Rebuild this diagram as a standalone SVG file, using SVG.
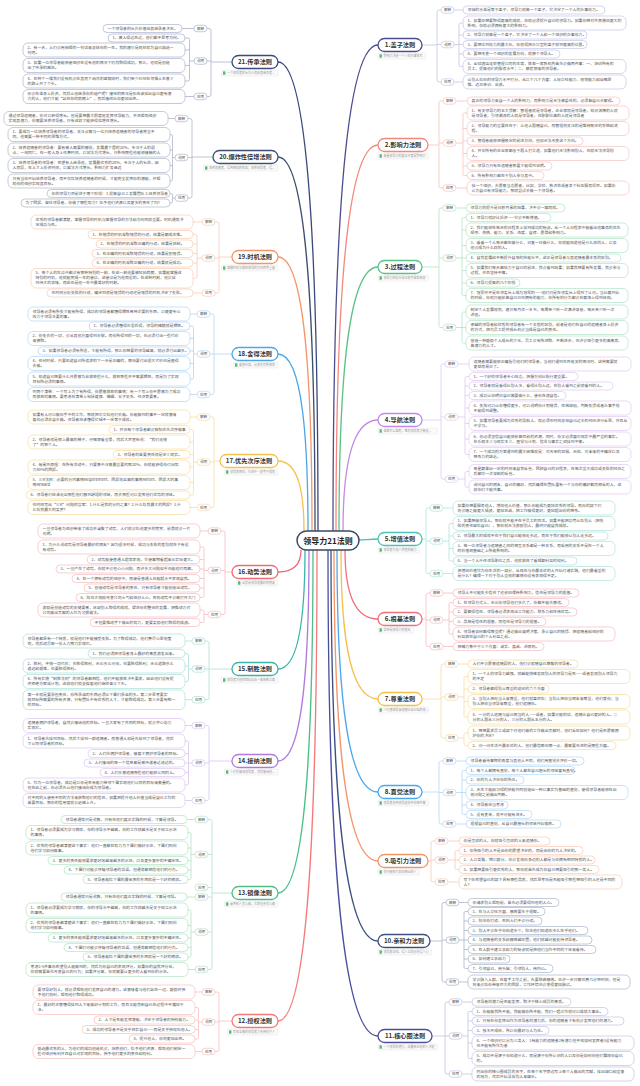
<svg xmlns="http://www.w3.org/2000/svg" width="640" height="1086" viewBox="0 0 640 1086">
<style>
text{font-family:"Noto Sans CJK SC","Noto Sans",sans-serif}
.t{font-size:3.9px;fill:#555}
.i{fill:#fff;stroke:var(--l);stroke-width:.7}
.lr{fill:#fff;stroke:var(--l);stroke-width:.7}
.lt{font-size:3.6px;fill:#555;text-anchor:middle}
.nr{fill:#fff;stroke:var(--c);stroke-width:1.3}
.nt{font-size:6.2px;font-weight:700;fill:#333;text-anchor:middle}
.sr{fill:#fafafa;stroke:#dedede;stroke-width:.4}
.st{font-size:3px;fill:#999}
.ic{fill:#5cb87a}
.m{fill:none;stroke:var(--c);stroke-width:1.3}
.br{fill:none;stroke:var(--l);stroke-width:.8}
.c1{--c:#4b4e8e;--l:#c3c5e6}.c2{--c:#f4877d;--l:#f6c3be}.c3{--c:#58c287;--l:#b3e3c6}.c4{--c:#c38ae6;--l:#e0c8f3}
.c5{--c:#4cc2b6;--l:#b0e2dd}.c6{--c:#f0707e;--l:#f5bcc2}.c7{--c:#f4c04a;--l:#f7dd9e}.c8{--c:#4ba8ef;--l:#b2d8f6}
.c9{--c:#f5956a;--l:#f8cbb5}.c10{--c:#3c5180;--l:#aab4cb}.c11{--c:#4a4f9c;--l:#c1c3e5}.c12{--c:#f47a7a;--l:#f6bfbf}
.c13{--c:#4cc087;--l:#b2e2c6}.c14{--c:#b07ae0;--l:#dbc5f0}.c15{--c:#3bb5a8;--l:#aedfd9}.c16{--c:#ef6b76;--l:#f5bcc1}
.c17{--c:#f5c24c;--l:#f8dda0}.c18{--c:#4aa8e8;--l:#b2d6f3}.c19{--c:#f5956a;--l:#f8cbb5}.c20{--c:#3d4f72;--l:#aeb6c7}
.c21{--c:#3a4a7c;--l:#aab2cd}
</style>
<rect width="640" height="1086" fill="#fff"/>
<g id="connectors">
<g class="c1"><path class="m" d="M333,531C333,302.6 339.8,45 378,45"/><path class="br" d="M422,45H437M441,10H439Q437,10 437,12V80Q437,82 439,82H441M437,44.5H441M454,10H463M454,44.5H463M463,23H460.5Q459,23 459,24.5V65Q459,66.5 460.5,66.5H463M459,35H463M459,54H463M454,82H463"/></g>
<g class="c2"><path class="m" d="M336,531C336,349.6 342.3,145 378,145"/><path class="br" d="M428,145H439M443,101H441Q439,101 439,103V186Q439,188 441,188H443M439,143H443M456,101H467M456,143H463M467,113H464.5Q463,113 463,114.5V174Q463,175.5 464.5,175.5H467M463,128.5H467M463,141H467M463,153.5H467M463,166H467M456,188H467"/></g>
<g class="c3"><path class="m" d="M339,531C339,406.9 344.9,267 378,267"/><path class="br" d="M420,267H439M443,208H441Q439,208 439,210V325.5Q439,327.5 441,327.5H443M439,258H443M456,208H466M456,258H466M466,217.5H463.5Q462,217.5 462,219V294Q462,295.5 463.5,295.5H466M462,230H466M462,245.5H466M462,270.5H466M462,283H466M456,327.5H466M466,312H463.5Q462,312 462,313.5V341.5Q462,343 463.5,343H466"/></g>
<g class="c4"><path class="m" d="M343,531C343,478.8 348.3,420 378,420"/><path class="br" d="M422,420H441M445,364H443Q441,364 441,366V477Q441,479 443,479H445M441,417H445M458,364H469M458,417H465M469,376.5H466.5Q465,376.5 465,378V453Q465,454.5 466.5,454.5H469M465,386H469M465,395.5H469M465,408H469M465,423.5H469M465,439H469M458,479H465M469,471.5H466.5Q465,471.5 465,473V485.5Q465,487 466.5,487H469"/></g>
<g class="c5"><path class="m" d="M359,540C365,540 370,539 378,539"/><path class="br" d="M422,539H426M430,508H428Q426,508 426,510V571.5Q426,573.5 428,573.5H430M426,541H430M443,508H453M443,541H449M453,523.5H450.5Q449,523.5 449,525V559.5Q449,561 450.5,561H453M449,536H453M449,548.5H453M443,573.5H453"/></g>
<g class="c6"><path class="m" d="M345,550C345,582.4 350,619 378,619"/><path class="br" d="M422,619H426M430,593H428Q426,593 426,595V644.5Q426,646.5 428,646.5H430M426,620H430M443,593H453M443,620H449M453,602.5H450.5Q449,602.5 449,604V632.5Q449,634 450.5,634H453M449,612H453M449,621.5H453M443,646.5H453"/></g>
<g class="c7"><path class="m" d="M341,550C341,620 346.5,699 378,699"/><path class="br" d="M422,699H441M445,664H443Q441,664 441,666V736Q441,738 443,738H445M441,697H445M458,664H468M458,697H464M468,676.5H465.5Q464,676.5 464,678V715.5Q464,717 465.5,717H468M464,689H468M464,701.5H468M458,738H464M468,733H465.5Q464,733 464,734.5V744Q464,745.5 465.5,745.5H468"/></g>
<g class="c8"><path class="m" d="M337,550C337,663.7 343.2,792 378,792"/><path class="br" d="M422,792H439M443,761H441Q439,761 439,763V822Q439,824 441,824H443M439,792.5H443M456,761H466M456,792.5H466M466,770.5H463.5Q462,770.5 462,772V813Q462,814.5 463.5,814.5H466M462,780H466M462,805H466M456,824H466"/></g>
<g class="c9"><path class="m" d="M334,550C334,696.2 340.6,861 378,861"/><path class="br" d="M428,861H431M435,841H433Q431,841 431,843V880Q431,882 433,882H435M431,860H435M448,841H459M448,860H459M459,850.5H456.5Q455,850.5 455,852V868Q455,869.5 456.5,869.5H459M448,882H459"/></g>
<g class="c10"><path class="m" d="M331,550C331,733.8 338,941 378,941"/><path class="br" d="M430,941H442M446,902.5H444Q442,902.5 442,904.5V980Q442,982 444,982H446M442,940H446M459,902.5H468M459,940H468M468,911.5H465.5Q464,911.5 464,913V967Q464,968.5 465.5,968.5H468M464,921H468M464,930.5H468M464,949.5H468M464,959H468M459,982H468"/></g>
<g class="c11"><path class="m" d="M328,550C328,778.4 335.5,1036 378,1036"/><path class="br" d="M432,1036H449M449,1002H447Q445,1002 445,1004V1072Q445,1074 447,1074H449M462,1002H472M462,1036H468M472,1011.5H469.5Q468,1011.5 468,1013V1057Q468,1058.5 469.5,1058.5H472M468,1021H472M468,1030.5H472M468,1043H472M462,1074H472"/></g>
<g class="c21"><path class="m" d="M318,531C318,310.6 312,62 278,62"/><path class="br" d="M232,62H211M207,28.5H209Q211,28.5 211,30.5V94.5Q211,96.5 209,96.5H207M211,61H207M194,28.5H182M194,61H189.5M185,38H188Q189.5,38 189.5,39.5V79.5Q189.5,81 188,81H185M189.5,50H185M189.5,65.5H185M194,96.5H185"/></g>
<g class="c20"><path class="m" d="M315,531C315,355.2 309.5,157 278,157"/><path class="br" d="M213,157H192M188,118.5H190Q192,118.5 192,120.5V196Q192,198 190,198H188M192,157.5H188M175,118.5H168M175,157.5H172.5M170,134.5H171Q172.5,134.5 172.5,136V179.5Q172.5,181 171,181H170M172.5,150H170M172.5,165.5H170M175,198H172.5M170,193.5H171Q172.5,193.5 172.5,195V201.5Q172.5,203 171,203H170"/></g>
<g class="c19"><path class="m" d="M312,531C312,402.2 306.9,257 278,257"/><path class="br" d="M232,257H219M215,222H217Q219,222 219,224V291Q219,293 217,293H215M219,258H215M202,222H193M202,258H197M193,234.5H195.5Q197,234.5 197,236V276.75Q197,278.25 195.5,278.25H193M197,244H193M197,253.5H193M197,263H193M202,293H193"/></g>
<g class="c18"><path class="m" d="M308,531C308,447.8 303.5,354 278,354"/><path class="br" d="M232,354H210M210,314H212Q214,314 214,316V392.5Q214,394.5 212,394.5H210M197,314H190M197,354H193.5M190,326H192Q193.5,326 193.5,327.5V377.5Q193.5,379 192,379H190M193.5,338.5H190M193.5,351H190M193.5,363.5H190M197,394.5H190"/></g>
<g class="c17"><path class="m" d="M304,531C304,498.1 300.1,461 278,461"/><path class="br" d="M220,461H214M210,417H212Q214,417 214,419V505.5Q214,507.5 212,507.5H210M214,462H210M197,417H190M197,462H193.5M190,429.5H192Q193.5,429.5 193.5,431V493.5Q193.5,495 192,495H190M193.5,442H190M193.5,454.5H190M193.5,467H190M193.5,482.5H190M197,507.5H190"/></g>
<g class="c16"><path class="m" d="M301,550C301,560.3 297.6,572 278,572"/><path class="br" d="M232,572H225M221,531H223Q225,531 225,533V612.5Q225,614.5 223,614.5H221M225,570.5H221M208,531H200M208,570.5H204M200,547H202.5Q204,547 204,548.5V596Q204,597.5 202.5,597.5H200M204,559.5H200M204,569H200M204,578.5H200M204,588H200M208,614.5H204M200,610H202.5Q204,610 204,611.5V621Q204,622.5 202.5,622.5H200"/></g>
<g class="c15"><path class="m" d="M305,550C305,605.9 301,669 278,669"/><path class="br" d="M232,669H205M205,641H207Q209,641 209,643V697.75Q209,699.75 207,699.75H205M192,641H185M192,669H188.5M185,653.5H187Q188.5,653.5 188.5,655V680Q188.5,681.5 187,681.5H185M188.5,666H185M192,699.75H185"/></g>
<g class="c14"><path class="m" d="M309,550C309,649.2 304.4,761 278,761"/><path class="br" d="M232,761H209M205,725.5H207Q209,725.5 209,727.5V798.5Q209,800.5 207,800.5H205M209,763H205M192,725.5H185M192,763H185M185,741H187Q188.5,741 188.5,742.5V783.5Q188.5,785 187,785H185M188.5,753.5H185M188.5,772.5H185M192,800.5H185"/></g>
<g class="c13"><path class="m" d="M313,550C313,711.2 307.8,893 278,893"/><path class="br" d="M232,893H212M208,819.5H210Q212,819.5 212,821.5V967.5Q212,969.5 210,969.5H208M212,854.5H208M212,887.5H208M212,897H208M212,932H208M195,819.5H187M195,854.5H191M188,832.5H189.5Q191,832.5 191,834V878Q191,879.5 189.5,879.5H188M191,848H188M191,860.5H188M191,870H188M195,897H187M195,932H191M188,910H189.5Q191,910 191,911.5V955.5Q191,957 189.5,957H188M191,925.5H188M191,938H188M191,947.5H188M195,969.5H188"/></g>
<g class="c12"><path class="m" d="M317,550C317,771.4 311.2,1021 278,1021"/><path class="br" d="M232,1021H219M215,992H217Q219,992 219,994V1049.5Q219,1051.5 217,1051.5H215M219,1022H215M202,992H195M202,1022H198.5M195,1007.5H197Q198.5,1007.5 198.5,1009V1037.5Q198.5,1039 197,1039H195M198.5,1020H195M198.5,1029.5H195M202,1051.5H195"/></g>
</g>

<g id="center"><rect x="297" y="531" width="62" height="19" rx="9.5" fill="#fff" stroke="#3d4a66" stroke-width="1.5"/><text x="328" y="543.6" font-size="8" font-weight="700" fill="#222" text-anchor="middle">领导力21法则</text></g>

<g id="n1" class="c1">
<rect class="nr" x="378" y="38.5" width="44" height="13" rx="6.5"/><text class="nt" x="400" y="47.2">1.盖子法则</text>
<rect class="sr" x="378" y="53" width="47.5" height="6" rx="1"/><rect class="ic" x="379.5" y="54.2" width="2.4" height="3.6" rx=".6"/><text class="st" x="383.5" y="57.1">影响力决定一个人的办事效率</text>
<rect class="lr" x="441" y="6.75" width="13" height="6.5" rx="3.25"/><text class="lt" x="447.5" y="11.3">解释</text>
<rect class="lr" x="441" y="41.25" width="13" height="6.5" rx="3.25"/><text class="lt" x="447.5" y="45.8">说明</text>
<rect class="lr" x="441" y="78.75" width="13" height="6.5" rx="3.25"/><text class="lt" x="447.5" y="83.3">应用</text>
<rect class="i" x="463" y="6" width="142" height="8" rx="4"/><text class="t" x="467.5" y="11.4">领袖的水准是等于盖子，领导力就像一个盖子，它决定了一个人的办事效力。</text>
<rect class="i" x="463" y="16" width="163" height="14" rx="5"/><text class="t" x="467.5" y="21.9">1、如果你想要取得更高的成就，你就必须提升自己的领导力。如果你想对外界施加更大的</text><text class="t" x="467.5" y="26.9">影响，你就必须拥有更大的影响力。</text>
<rect class="i" x="463" y="31" width="124" height="8" rx="4"/><text class="t" x="467.5" y="36.4">2、领导力就像是一个盖子，它决定了一个人和一个组织的办事效力。</text>
<rect class="i" x="463" y="40.5" width="124" height="8" rx="4"/><text class="t" x="467.5" y="45.9">3、要想达到效力的最大化，你就得把办公室的盖子掀到更高的位置。</text>
<rect class="i" x="463" y="50" width="97" height="8" rx="4"/><text class="t" x="467.5" y="55.4">4、要想改变一个组织的发展方向，就换个领导人。</text>
<rect class="i" x="463" y="59.5" width="163" height="14" rx="5"/><text class="t" x="467.5" y="65.4">5、金球酒店连锁管理公司的主席，陈寿一家新机构首先会做两件事：一、培训所有的</text><text class="t" x="467.5" y="70.4">员工，提高他们的服务水平；二、解雇原来的领导者。</text>
<rect class="i" x="463" y="75" width="163" height="14" rx="5"/><text class="t" x="467.5" y="80.9">让别人给你的领导力水平打分，从以下几个方面：人际交往能力、规划能力和战略思</text><text class="t" x="467.5" y="85.9">维、远见卓识、业绩。</text>
</g>

<g id="n2" class="c2">
<rect class="nr" x="378" y="138.5" width="50" height="13" rx="6.5"/><text class="nt" x="403" y="147.2">2.影响力法则</text>
<rect class="sr" x="378" y="153" width="50.5" height="6" rx="1"/><rect class="ic" x="379.5" y="154.2" width="2.4" height="3.6" rx=".6"/><text class="st" x="383.5" y="157.1">衡量领导力的真正尺度是影响力</text>
<rect class="lr" x="443" y="97.75" width="13" height="6.5" rx="3.25"/><text class="lt" x="449.5" y="102.3">解释</text>
<rect class="lr" x="443" y="139.75" width="13" height="6.5" rx="3.25"/><text class="lt" x="449.5" y="144.3">说明</text>
<rect class="lr" x="443" y="184.75" width="13" height="6.5" rx="3.25"/><text class="lt" x="449.5" y="189.3">应用</text>
<rect class="i" x="467" y="97" width="153" height="8" rx="4"/><text class="t" x="471.5" y="102.4">真正的领导力来自一个人的影响力，而影响力是无法被委任的，必须靠自己去赢得。</text>
<rect class="i" x="467" y="106" width="162" height="14" rx="5"/><text class="t" x="471.5" y="111.9">1、有关领导力的五大误解：管理者就是领导者，企业家就是领导者，知识渊博的人就</text><text class="t" x="471.5" y="116.9">是领导者，引领潮流的人就是领导者，任职职位高的人就是领导者</text>
<rect class="i" x="467" y="121.5" width="162" height="14" rx="5"/><text class="t" x="471.5" y="127.4">2、领导能力的重要性在于：让他人跟随自己，而管理则关注的是维持既定的系统和流</text><text class="t" x="471.5" y="132.4">程。</text>
<rect class="i" x="467" y="137" width="116" height="8" rx="4"/><text class="t" x="471.5" y="142.4">3、管理者能够把握既定的前进方向，但却无法改变这个方向。</text>
<rect class="i" x="467" y="146.5" width="162" height="14" rx="5"/><text class="t" x="471.5" y="152.4">4、并非所有的企业家都善于跟人打交道，如果他们无法影响别人，也就无法领导别</text><text class="t" x="471.5" y="157.4">人。</text>
<rect class="i" x="467" y="162" width="85" height="8" rx="4"/><text class="t" x="471.5" y="167.4">5、领导力只有在追随者那里才能得到证明。</text>
<rect class="i" x="467" y="171.5" width="77" height="8" rx="4"/><text class="t" x="471.5" y="176.9">6、所有影响力都在于别人参与其中。</text>
<rect class="i" x="467" y="181" width="162" height="14" rx="5"/><text class="t" x="471.5" y="186.9">找一个组织，去愿意当志愿者，比如，学校、救济处或者某个社区服务项目。如果你</text><text class="t" x="471.5" y="191.9">认为自己有领导能力，那就尝试去做一个领导者。</text>
</g>

<g id="n3" class="c3">
<rect class="nr" x="378" y="260.5" width="44" height="13" rx="6.5"/><text class="nt" x="400" y="269.2">3.过程法则</text>
<rect class="sr" x="378" y="275" width="50.5" height="6" rx="1"/><rect class="ic" x="379.5" y="276.2" width="2.4" height="3.6" rx=".6"/><text class="st" x="383.5" y="279.1">领导力的提升是日积月累的结果</text>
<rect class="lr" x="443" y="204.75" width="13" height="6.5" rx="3.25"/><text class="lt" x="449.5" y="209.3">解释</text>
<rect class="lr" x="443" y="254.75" width="13" height="6.5" rx="3.25"/><text class="lt" x="449.5" y="259.3">说明</text>
<rect class="lr" x="443" y="324.25" width="13" height="6.5" rx="3.25"/><text class="lt" x="449.5" y="328.8">应用</text>
<rect class="i" x="466" y="204" width="99" height="8" rx="4"/><text class="t" x="470.5" y="209.4">领导力的提升是日积月累的结果，决不会一蹴而就。</text>
<rect class="i" x="466" y="213.5" width="85" height="8" rx="4"/><text class="t" x="470.5" y="218.9">1、领导力就好比投资——它会不断增值。</text>
<rect class="i" x="466" y="223" width="162" height="14" rx="5"/><text class="t" x="470.5" y="228.9">2、我们能够在每天的日程表上找到成功的秘诀。从一个人日程表中能看出他事务的优先</text><text class="t" x="470.5" y="233.9">顺序、热情、能力、关系、态度、自律、愿景和影响力。</text>
<rect class="i" x="466" y="238.5" width="162" height="14" rx="5"/><text class="t" x="470.5" y="244.4">3、看看一个人每天都在做什么，日复一日做什么，你就能知道他是什么样的人，以及</text><text class="t" x="470.5" y="249.4">他会成为什么样的人。</text>
<rect class="i" x="466" y="254" width="155" height="8" rx="4"/><text class="t" x="470.5" y="259.4">4、自我发展和不断提升自身的技能水平，这正是领导者与其追随者最本质的区别。</text>
<rect class="i" x="466" y="263.5" width="162" height="14" rx="5"/><text class="t" x="470.5" y="269.4">5、如果我们每天都致力于自己的前进，我会看到结果；如果我想要有所发展，我会参与</text><text class="t" x="470.5" y="274.4">过程，并且坚持不懈。</text>
<rect class="i" x="466" y="279" width="54" height="8" rx="4"/><text class="t" x="470.5" y="284.4">6、领导力提高的几个阶段</text>
<rect class="i" x="466" y="288.5" width="162" height="14" rx="5"/><text class="t" x="470.5" y="294.4">7、冠军并不是在领奖台上成为冠军的——他们只是在领奖台上得到了认可。当比赛开始</text><text class="t" x="470.5" y="299.4">的时候，你就只能依靠自己已经拥有的能力，你所有的行为都会在赛场上得到体现。</text>
<rect class="i" x="466" y="305" width="162" height="14" rx="5"/><text class="t" x="470.5" y="310.9">制定个人发展规划，建议每月读一本书，每周至少听一次演讲录音，每天至少听一次</text><text class="t" x="470.5" y="315.9">讲座。</text>
<rect class="i" x="466" y="320.5" width="162" height="14" rx="5"/><text class="t" x="470.5" y="326.4">卓越的领导者和优秀的领导者有一个本质的区别，前者是他们在自己的追随者身上投资</text><text class="t" x="470.5" y="331.4">的方式，把为员工提供成长机会当成是自己的责任。</text>
<rect class="i" x="466" y="336" width="162" height="14" rx="5"/><text class="t" x="470.5" y="341.9">营造一种鼓励个人成长的文化，员工会有所进取、不断进步，也许会吸引更多的高素质、</text><text class="t" x="470.5" y="346.9">高潜力的人才。</text>
</g>

<g id="n4" class="c4">
<rect class="nr" x="378" y="413.5" width="44" height="13" rx="6.5"/><text class="nt" x="400" y="422.2">4.导航法则</text>
<rect class="sr" x="378" y="428" width="59.5" height="6" rx="1"/><rect class="ic" x="379.5" y="429.2" width="2.4" height="3.6" rx=".6"/><text class="st" x="383.5" y="432.1">谁都可以掌舵，唯有领导者才能设...</text>
<rect class="lr" x="445" y="360.75" width="13" height="6.5" rx="3.25"/><text class="lt" x="451.5" y="365.3">解释</text>
<rect class="lr" x="445" y="413.75" width="13" height="6.5" rx="3.25"/><text class="lt" x="451.5" y="418.3">说明</text>
<rect class="lr" x="445" y="475.75" width="13" height="6.5" rx="3.25"/><text class="lt" x="451.5" y="480.3">应用</text>
<rect class="i" x="469" y="357" width="162" height="14" rx="5"/><text class="t" x="473.5" y="362.9">追随者需要能够正确指引他们的领导者，当他们遇到生死攸关的情况时，这种需要就</text><text class="t" x="473.5" y="367.9">更显而易见了。</text>
<rect class="i" x="469" y="372.5" width="109" height="8" rx="4"/><text class="t" x="473.5" y="377.9">1、一个好的领导者专心致志，把握方向比航行更重要。</text>
<rect class="i" x="469" y="382" width="144" height="8" rx="4"/><text class="t" x="473.5" y="387.4">2、领导者就是看得比别人多，看得比别人远，在别人看到之前就看到的人。</text>
<rect class="i" x="469" y="391.5" width="97" height="8" rx="4"/><text class="t" x="473.5" y="396.9">3、成功让你明白自己需要做什么，使你充满自信。</text>
<rect class="i" x="469" y="401" width="162" height="14" rx="5"/><text class="t" x="473.5" y="406.9">4、失败可以让你懂得更多，可以说明你计划错误，性格缺陷，判断失误或者办事手段</text><text class="t" x="473.5" y="411.9">不能得到调整。</text>
<rect class="i" x="469" y="416.5" width="162" height="14" rx="5"/><text class="t" x="473.5" y="422.4">5、如果领导者要成为优秀的导航人，就必须花时间总结自己过去的经历进行反思，并且从</text><text class="t" x="473.5" y="427.4">中学习。</text>
<rect class="i" x="469" y="432" width="162" height="14" rx="5"/><text class="t" x="473.5" y="437.9">6、你必须坚信自己能够依靠目前的资源，同时，你又必须面对现实中最严重的事实。</text><text class="t" x="473.5" y="442.9">在乐观主义与现实主义、直觉与计划、信念与事实之间找到平衡。</text>
<rect class="i" x="469" y="447.5" width="162" height="14" rx="5"/><text class="t" x="473.5" y="453.4">7、一个成功的方案遇到的最大困难就是：对改革的恐惧、无知、对未来的不确定以及</text><text class="t" x="473.5" y="458.4">想象力的缺乏。</text>
<rect class="i" x="469" y="464.5" width="162" height="14" rx="5"/><text class="t" x="473.5" y="470.4">每星期拿出一定的时间来自我反省，回顾自己的日程表，在每次重大成功或失败的经历之</text><text class="t" x="473.5" y="475.4">后都作一次深刻的反省。</text>
<rect class="i" x="469" y="480" width="162" height="14" rx="5"/><text class="t" x="473.5" y="485.9">询问自己的朋友、自己的偏好，然后确保在团队里有一个与你的偏好截然相反的人，这</text><text class="t" x="473.5" y="490.9">样你们才能共事。</text>
</g>

<g id="n5" class="c5">
<rect class="nr" x="378" y="532.5" width="44" height="13" rx="6.5"/><text class="nt" x="400" y="541.2">5.增值法则</text>
<rect class="sr" x="378" y="547" width="41.5" height="6" rx="1"/><rect class="ic" x="379.5" y="548.2" width="2.4" height="3.6" rx=".6"/><text class="st" x="383.5" y="551.1">领导者为他人增值的能力</text>
<rect class="lr" x="430" y="504.75" width="13" height="6.5" rx="3.25"/><text class="lt" x="436.5" y="509.3">解释</text>
<rect class="lr" x="430" y="537.75" width="13" height="6.5" rx="3.25"/><text class="lt" x="436.5" y="542.3">说明</text>
<rect class="lr" x="430" y="570.25" width="13" height="6.5" rx="3.25"/><text class="lt" x="436.5" y="574.8">应用</text>
<rect class="i" x="453" y="501" width="162" height="14" rx="5"/><text class="t" x="457.5" y="506.9">如果你想要服务他人，增加他人价值，那么你能成为更加优秀的领导。而你的部下们</text><text class="t" x="457.5" y="511.9">将会随之做更大成绩，更加忠诚，把工作做得更好，更加超出你的想象。</text>
<rect class="i" x="453" y="516.5" width="162" height="14" rx="5"/><text class="t" x="457.5" y="522.4">1、如果想做领导人，那你就不能不在乎员工的死活。如果不能把功劳让给别人（把失</text><text class="t" x="457.5" y="527.4">败的责任留给自己），那你就无法激励别人，最终只能自我成就。</text>
<rect class="i" x="453" y="532" width="155" height="8" rx="4"/><text class="t" x="457.5" y="537.4">2、领导最大的成就不在于我们自己能够走多远，而在于我们能够让别人走多远。</text>
<rect class="i" x="453" y="541.5" width="162" height="14" rx="5"/><text class="t" x="457.5" y="547.4">3、每一位领导者与追随者之间的相互关系都是一种关系，而采用的关系不是在一个人</text><text class="t" x="457.5" y="552.4">的价值观基础之上所能影响的。</text>
<rect class="i" x="453" y="557" width="124" height="8" rx="4"/><text class="t" x="457.5" y="562.4">4、当一个人升任领导职位之后，他就放弃了看短期利益的权利。</text>
<rect class="i" x="453" y="566.5" width="162" height="14" rx="5"/><text class="t" x="457.5" y="572.4">把增加价值作为你生活的一部分，从现在与你最亲近的人开始付诸实践，他们最看重的</text><text class="t" x="457.5" y="577.4">是什么？确保一下对于别人重视的事情你没有表现得不足。</text>
</g>

<g id="n6" class="c6">
<rect class="nr" x="378" y="612.5" width="44" height="13" rx="6.5"/><text class="nt" x="400" y="621.2">6.根基法则</text>
<rect class="sr" x="378" y="627" width="35.5" height="6" rx="1"/><rect class="ic" x="379.5" y="628.2" width="2.4" height="3.6" rx=".6"/><text class="st" x="383.5" y="631.1">信任是领导力的基石</text>
<rect class="lr" x="430" y="589.75" width="13" height="6.5" rx="3.25"/><text class="lt" x="436.5" y="594.3">解释</text>
<rect class="lr" x="430" y="616.75" width="13" height="6.5" rx="3.25"/><text class="lt" x="436.5" y="621.3">说明</text>
<rect class="lr" x="430" y="643.25" width="13" height="6.5" rx="3.25"/><text class="lt" x="436.5" y="647.8">应用</text>
<rect class="i" x="453" y="589" width="126" height="8" rx="4"/><text class="t" x="457.5" y="594.4">领导人不可能失去信任了还依旧保持影响力，信任是领导力的根基。</text>
<rect class="i" x="453" y="598.5" width="116" height="8" rx="4"/><text class="t" x="457.5" y="603.9">1、在领导方式上，无论你领导他们多久了，你都不能去撒谎。</text>
<rect class="i" x="453" y="608" width="124" height="8" rx="4"/><text class="t" x="457.5" y="613.4">2、要赢得信任，领导者必须表现出工作能力、联系力和性格优势。</text>
<rect class="i" x="453" y="617.5" width="93" height="8" rx="4"/><text class="t" x="457.5" y="622.9">3、品格是信任的根基，而信任是领导力的根基。</text>
<rect class="i" x="453" y="627" width="162" height="14" rx="5"/><text class="t" x="457.5" y="632.9">4、领导者如何赢得尊重呢？通过做出英明决策、承认自己的错误、把追随者和组织的</text><text class="t" x="457.5" y="637.9">利益放在自己的个人利益之前。</text>
<rect class="i" x="453" y="642.5" width="91" height="8" rx="4"/><text class="t" x="457.5" y="647.9">把精力集中于三个方面：诚实、真诚、讲原则。</text>
</g>

<g id="n7" class="c7">
<rect class="nr" x="378" y="692.5" width="44" height="13" rx="6.5"/><text class="nt" x="400" y="701.2">7.尊重法则</text>
<rect class="sr" x="378" y="707" width="50.5" height="6" rx="1"/><rect class="ic" x="379.5" y="708.2" width="2.4" height="3.6" rx=".6"/><text class="st" x="383.5" y="711.1">人们通常愿意追随比自己强的领...</text>
<rect class="lr" x="445" y="660.75" width="13" height="6.5" rx="3.25"/><text class="lt" x="451.5" y="665.3">解释</text>
<rect class="lr" x="445" y="693.75" width="13" height="6.5" rx="3.25"/><text class="lt" x="451.5" y="698.3">说明</text>
<rect class="lr" x="445" y="734.75" width="13" height="6.5" rx="3.25"/><text class="lt" x="451.5" y="739.3">应用</text>
<rect class="i" x="468" y="660" width="110" height="8" rx="4"/><text class="t" x="472.5" y="665.4">人们不会愿意追随弱的人，他们会追随自己尊敬的领导者。</text>
<rect class="i" x="468" y="669.5" width="162" height="14" rx="5"/><text class="t" x="472.5" y="675.4">1、一个人的领导力越强，就越能快速发现别人的领导力是否——或者发现别人领导力</text><text class="t" x="472.5" y="680.4">的不足</text>
<rect class="i" x="468" y="685" width="81" height="8" rx="4"/><text class="t" x="472.5" y="690.4">2、领导者赢得别人尊重的途径的六个方面</text>
<rect class="i" x="468" y="694.5" width="162" height="14" rx="5"/><text class="t" x="472.5" y="700.4">3、当别人把你当人来尊重，他们就喜欢你；当别人把你当朋友来尊重，他们爱你；当</text><text class="t" x="472.5" y="705.4">别人把你当领导来尊重，他们追随你。</text>
<rect class="i" x="468" y="710" width="162" height="14" rx="5"/><text class="t" x="472.5" y="715.9">4、一分的人追随与自己相当的人——或者，如果可能的话，追随比自己更好的人。二</text><text class="t" x="472.5" y="720.9">分的人跟从三分的人，三分的人跟从五分的人。</text>
<rect class="i" x="468" y="726" width="162" height="14" rx="5"/><text class="t" x="472.5" y="731.9">1、想想要求员工或部下对他们做的工作做出贡献时，他们反应如何？他们是否愿意拥</text><text class="t" x="472.5" y="736.9">护你的决定？</text>
<rect class="i" x="468" y="741.5" width="148" height="8" rx="4"/><text class="t" x="472.5" y="746.9">2、问一问生活中最亲近的人，他们最信赖你哪一点，最需要改进的是哪些方面。</text>
</g>

<g id="n8" class="c8">
<rect class="nr" x="378" y="785.5" width="44" height="13" rx="6.5"/><text class="nt" x="400" y="794.2">8.直觉法则</text>
<rect class="sr" x="378" y="800" width="50.5" height="6" rx="1"/><rect class="ic" x="379.5" y="801.2" width="2.4" height="3.6" rx=".6"/><text class="st" x="383.5" y="804.1">领导者善用领导直觉评估每件事</text>
<rect class="lr" x="443" y="757.75" width="13" height="6.5" rx="3.25"/><text class="lt" x="449.5" y="762.3">解释</text>
<rect class="lr" x="443" y="789.25" width="13" height="6.5" rx="3.25"/><text class="lt" x="449.5" y="793.8">说明</text>
<rect class="lr" x="443" y="820.75" width="13" height="6.5" rx="3.25"/><text class="lt" x="449.5" y="825.3">应用</text>
<rect class="i" x="466" y="757" width="118" height="8" rx="4"/><text class="t" x="470.5" y="762.4">领导者看待事物的角度与其他人不同，他们用直觉去评价一切。</text>
<rect class="i" x="466" y="766.5" width="109" height="8" rx="4"/><text class="t" x="470.5" y="771.9">1、每个人都拥有直觉，每个人都在自己擅长的领域富有直觉。</text>
<rect class="i" x="466" y="776" width="58" height="8" rx="4"/><text class="t" x="470.5" y="781.4">2、你的为人决定你的所见。</text>
<rect class="i" x="466" y="785.5" width="162" height="14" rx="5"/><text class="t" x="470.5" y="791.4">3、天生才能和习得的技能共同创造出一种以事实为基础的直觉，使得领导者能够在出</text><text class="t" x="470.5" y="796.4">现问题之前做出判断。</text>
<rect class="i" x="466" y="801" width="42" height="8" rx="4"/><text class="t" x="470.5" y="806.4">4、领导者应当考虑</text>
<rect class="i" x="466" y="810.5" width="66" height="8" rx="4"/><text class="t" x="470.5" y="815.9">5、没有变革，就不可能有进步。</text>
<rect class="i" x="466" y="820" width="95" height="8" rx="4"/><text class="t" x="470.5" y="825.4">根据自己的直觉，从自己最擅长的领域开始锻炼。</text>
</g>

<g id="n9" class="c9">
<rect class="nr" x="378" y="854.5" width="50" height="13" rx="6.5"/><text class="nt" x="403" y="863.2">9.吸引力法则</text>
<rect class="sr" x="378" y="869" width="41.5" height="6" rx="1"/><rect class="ic" x="379.5" y="870.2" width="2.4" height="3.6" rx=".6"/><text class="st" x="383.5" y="873.1">你只能吸引和你相似的人</text>
<rect class="lr" x="435" y="837.75" width="13" height="6.5" rx="3.25"/><text class="lt" x="441.5" y="842.3">解释</text>
<rect class="lr" x="435" y="856.75" width="13" height="6.5" rx="3.25"/><text class="lt" x="441.5" y="861.3">说明</text>
<rect class="lr" x="435" y="878.75" width="13" height="6.5" rx="3.25"/><text class="lt" x="441.5" y="883.3">应用</text>
<rect class="i" x="459" y="837" width="91" height="8" rx="4"/><text class="t" x="463.5" y="842.4">你是怎样的人，你就吸引怎样的人来追随你。</text>
<rect class="i" x="459" y="846.5" width="124" height="8" rx="4"/><text class="t" x="463.5" y="851.9">1、你所吸引的人不是由你的愿望决定的，而是由你的为人决定的。</text>
<rect class="i" x="459" y="856" width="136" height="8" rx="4"/><text class="t" x="463.5" y="861.4">2、人以类聚，物以群分，你会发现你身边的人都是与你拥有相同特质的人。</text>
<rect class="i" x="459" y="865.5" width="140" height="8" rx="4"/><text class="t" x="463.5" y="870.9">3、如果想要吸引更优秀的人，那你就首先成为你自己想要吸引的那一类人。</text>
<rect class="i" x="459" y="875" width="163" height="14" rx="5"/><text class="t" x="463.5" y="880.9">写下你希望自己的部下具有哪些品质，然后思考你是否能吸引那些想吸引的人还是不同的</text><text class="t" x="463.5" y="885.9">人？</text>
</g>

<g id="n10" class="c10">
<rect class="nr" x="378" y="934.5" width="52" height="13" rx="6.5"/><text class="nt" x="404" y="943.2">10.亲和力法则</text>
<rect class="sr" x="378" y="949" width="53.5" height="6" rx="1"/><rect class="ic" x="379.5" y="950.2" width="2.4" height="3.6" rx=".6"/><text class="st" x="383.5" y="953.1">领导者深知，得人之前必先得人心</text>
<rect class="lr" x="446" y="899.25" width="13" height="6.5" rx="3.25"/><text class="lt" x="452.5" y="903.8">解释</text>
<rect class="lr" x="446" y="936.75" width="13" height="6.5" rx="3.25"/><text class="lt" x="452.5" y="941.3">说明</text>
<rect class="lr" x="446" y="978.75" width="13" height="6.5" rx="3.25"/><text class="lt" x="452.5" y="983.3">应用</text>
<rect class="i" x="468" y="898.5" width="91" height="8" rx="4"/><text class="t" x="472.5" y="903.9">你请求别人帮助前，首先必须要得到他的人心。</text>
<rect class="i" x="468" y="907.5" width="77" height="8" rx="4"/><text class="t" x="472.5" y="912.9">1、在与人交往方面，感情要先于理智。</text>
<rect class="i" x="468" y="917" width="74" height="8" rx="4"/><text class="t" x="472.5" y="922.4">2、除非你打动，否则人们不会行动。</text>
<rect class="i" x="468" y="926.5" width="120" height="8" rx="4"/><text class="t" x="472.5" y="931.9">3、别人不会在乎你知道多少，除非他们知道你多么在乎他们。</text>
<rect class="i" x="468" y="936" width="124" height="8" rx="4"/><text class="t" x="472.5" y="941.4">4、与追随者的关系和感情越牢固，他们就越可能支持领导者。</text>
<rect class="i" x="468" y="945.5" width="128" height="8" rx="4"/><text class="t" x="472.5" y="950.9">5、在人群中建立亲和力的秘诀就是把他们当作不同的个体来看待。</text>
<rect class="i" x="468" y="955" width="42" height="8" rx="4"/><text class="t" x="472.5" y="960.4">6、如何建立亲和力</text>
<rect class="i" x="468" y="964.5" width="85" height="8" rx="4"/><text class="t" x="472.5" y="969.9">7、引领自己，用头脑；引领别人，用内心。</text>
<rect class="i" x="468" y="975" width="162" height="14" rx="5"/><text class="t" x="472.5" y="980.9">学会融入人群，在着手工作之前，先要联络感情。也许一天只需花费几分钟时间，但是</text><text class="t" x="472.5" y="985.9">将来会给你带来巨大的回报，工作环境也会变得更加融洽。</text>
</g>

<g id="n11" class="c11">
<rect class="nr" x="378" y="1029.5" width="54" height="13" rx="6.5"/><text class="nt" x="405" y="1038.2">11.核心圈法则</text>
<rect class="sr" x="378" y="1044" width="59.5" height="6" rx="1"/><rect class="ic" x="379.5" y="1045.2" width="2.4" height="3.6" rx=".6"/><text class="st" x="383.5" y="1048.1">一个领导的潜力，由最亲近他的人决定</text>
<rect class="lr" x="449" y="998.75" width="13" height="6.5" rx="3.25"/><text class="lt" x="455.5" y="1003.3">解释</text>
<rect class="lr" x="449" y="1032.75" width="13" height="6.5" rx="3.25"/><text class="lt" x="455.5" y="1037.3">说明</text>
<rect class="lr" x="449" y="1070.75" width="13" height="6.5" rx="3.25"/><text class="lt" x="455.5" y="1075.3">应用</text>
<rect class="i" x="472" y="998" width="99" height="8" rx="4"/><text class="t" x="476.5" y="1003.4">领导者的潜力是否能发挥，取决于核心成员的素质。</text>
<rect class="i" x="472" y="1007.5" width="136" height="8" rx="4"/><text class="t" x="476.5" y="1012.9">1、你能做我所不能，我能做你所不能，我们一起合作就可以成就大事业。</text>
<rect class="i" x="472" y="1017" width="152" height="8" rx="4"/><text class="t" x="476.5" y="1022.4">2、只有在你发挥出作为领导者的潜力后，你的追随者才有机会发挥他们的潜力。</text>
<rect class="i" x="472" y="1026.5" width="77" height="8" rx="4"/><text class="t" x="476.5" y="1031.9">3、独木不成林，所以你最好与人为伴。</text>
<rect class="i" x="472" y="1036" width="162" height="14" rx="5"/><text class="t" x="476.5" y="1041.9">4、一个组织可以分为三类人：1有能力的追随者2有潜力但不知如何发挥者3没有能力</text><text class="t" x="476.5" y="1046.9">也不能有所作为者</text>
<rect class="i" x="472" y="1051.5" width="162" height="14" rx="5"/><text class="t" x="476.5" y="1057.4">5、成功不是源于你知道什么，而是源于你所认识的人以及你是如何向他们展现你自己</text><text class="t" x="476.5" y="1062.4">的。</text>
<rect class="i" x="472" y="1067" width="162" height="14" rx="5"/><text class="t" x="476.5" y="1072.9">列出你的核心圈成员的名字，在每个名字旁边写上每个人做出的贡献，找出缺口和重复</text><text class="t" x="476.5" y="1077.9">的地方，然后开始寻找别人来填补。</text>
</g>

<g id="n21" class="c21">
<rect class="nr" x="232" y="55.5" width="46" height="13" rx="6.5"/><text class="nt" x="255" y="64.2">21.传承法则</text>
<rect class="sr" x="221.5" y="70" width="56.5" height="6" rx="1"/><rect class="ic" x="223" y="71.2" width="2.4" height="3.6" rx=".6"/><text class="st" x="227" y="74.1">一个领导者的长久价值由其继承者...</text>
<rect class="lr" x="194" y="25.25" width="13" height="6.5" rx="3.25"/><text class="lt" x="200.5" y="29.8">解释</text>
<rect class="lr" x="194" y="57.75" width="13" height="6.5" rx="3.25"/><text class="lt" x="200.5" y="62.3">说明</text>
<rect class="lr" x="194" y="93.25" width="13" height="6.5" rx="3.25"/><text class="lt" x="200.5" y="97.8">应用</text>
<rect class="i" x="103" y="24.5" width="79" height="8" rx="4"/><text class="t" x="107.5" y="29.9">一个领导者的长久价值由其继承者决定。</text>
<rect class="i" x="108" y="34" width="77" height="8" rx="4"/><text class="t" x="112.5" y="39.4">1、庸人得过且过，他们都不思考方向。</text>
<rect class="i" x="23" y="43" width="162" height="14" rx="5"/><text class="t" x="27.5" y="48.9">2、有一天，人们会用简短的一句话来总结你的一生。我的建议是现在就为自己挑选一</text><text class="t" x="27.5" y="53.9">句吧。</text>
<rect class="i" x="23" y="58.5" width="162" height="14" rx="5"/><text class="t" x="27.5" y="64.4">3、如果一位领导者能够使组织在没有他的情况下仍然取得成功，那么，他就是创造</text><text class="t" x="27.5" y="69.4">出了传承的典范。</text>
<rect class="i" x="23" y="74" width="162" height="14" rx="5"/><text class="t" x="27.5" y="79.9">4、在种下一棵我们没有机会在其底下纳凉的遮荫树时，我们至少已经在领悟人生意义</text><text class="t" x="27.5" y="84.9">的路上开了个头。</text>
<rect class="i" x="23" y="89.5" width="162" height="14" rx="5"/><text class="t" x="27.5" y="95.4">你会在谁身上投资，然后让他继承你的遗产呢？接班的情况是你应该找出自己更有潜</text><text class="t" x="27.5" y="100.4">力的人，他们才能“站在你的肩膀上”，而后接续比你更加出色。</text>
</g>

<g id="n20" class="c20">
<rect class="nr" x="213" y="150.5" width="65" height="13" rx="6.5"/><text class="nt" x="245.5" y="159.2">20.爆炸性倍增法则</text>
<rect class="sr" x="203.5" y="165" width="74.5" height="6" rx="1"/><rect class="ic" x="205" y="166.2" width="2.4" height="3.6" rx=".6"/><text class="st" x="209" y="169.1">培养追随者，得到相加的效果；培养领导者，得...</text>
<rect class="lr" x="175" y="115.25" width="13" height="6.5" rx="3.25"/><text class="lt" x="181.5" y="119.8">解释</text>
<rect class="lr" x="175" y="154.25" width="13" height="6.5" rx="3.25"/><text class="lt" x="181.5" y="158.8">说明</text>
<rect class="lr" x="175" y="194.75" width="13" height="6.5" rx="3.25"/><text class="lt" x="181.5" y="199.3">应用</text>
<rect class="i" x="4" y="111.5" width="164" height="14" rx="5"/><text class="t" x="8.5" y="117.4">通过领导追随者，你可以获得增长。但是要想最大限度地发挥领导能力，并且帮助组织</text><text class="t" x="8.5" y="122.4">实现其潜力，你需要培养领导者。只有这样才能获得倍增性增长。</text>
<rect class="i" x="8" y="127.5" width="162" height="14" rx="5"/><text class="t" x="12.5" y="133.4">1、要成为一位培养领导者的领导者，关注点需与一位只培养追随者的领导者完全不</text><text class="t" x="12.5" y="138.4">同，他需要一种不同的思维方式。</text>
<rect class="i" x="8" y="143" width="162" height="14" rx="5"/><text class="t" x="12.5" y="148.9">2、培养追随者的领导者：要有被人需要的感觉，发展最下层的20%，专注于人的弱</text><text class="t" x="12.5" y="153.9">点，一视同仁，在一般人身上花费时间，以加法方式增长，只影响那些他能够接触的人</text>
<rect class="i" x="8" y="158.5" width="162" height="14" rx="5"/><text class="t" x="12.5" y="164.4">3、培养领导者的领导者：希望有人继承他，发展最优秀的20%，专注于人的长处，因</text><text class="t" x="12.5" y="169.4">人而异，在人才上投资时间，以乘法方式增长，影响力扩及甚远</text>
<rect class="i" x="8" y="174" width="162" height="14" rx="5"/><text class="t" x="12.5" y="179.9">只有当你开始培养领导者，而不仅仅培养追随者的时候，才能完全发挥你的潜能，并帮</text><text class="t" x="12.5" y="184.9">助你的组织实现其目标。</text>
<rect class="i" x="47" y="189.5" width="123" height="8" rx="4"/><text class="t" x="51.5" y="194.9">你的领导力目前处于哪个阶段：1.提高自己 2.发展团队 3.培养领导者</text>
<rect class="i" x="21" y="199" width="149" height="8" rx="4"/><text class="t" x="25.5" y="204.4">为了回报、留住领导者，你做了哪些努力？给予他们资源以及更多的责任了吗？</text>
</g>

<g id="n19" class="c19">
<rect class="nr" x="232" y="250.5" width="46" height="13" rx="6.5"/><text class="nt" x="255" y="259.2">19.时机法则</text>
<rect class="sr" x="221.5" y="265" width="56.5" height="6" rx="1"/><rect class="ic" x="223" y="266.2" width="2.4" height="3.6" rx=".6"/><text class="st" x="227" y="269.1">掌握时机与掌控领导的方向同等重要</text>
<rect class="lr" x="202" y="218.75" width="13" height="6.5" rx="3.25"/><text class="lt" x="208.5" y="223.3">解释</text>
<rect class="lr" x="202" y="254.75" width="13" height="6.5" rx="3.25"/><text class="lt" x="208.5" y="259.3">说明</text>
<rect class="lr" x="202" y="289.75" width="13" height="6.5" rx="3.25"/><text class="lt" x="208.5" y="294.3">应用</text>
<rect class="i" x="31" y="215" width="162" height="14" rx="5"/><text class="t" x="35.5" y="220.9">优秀的领导者都清楚，掌握领导的时机与掌握领导的方法和方向同样重要。时机通常决</text><text class="t" x="35.5" y="225.9">定成功与否。</text>
<rect class="i" x="88" y="230.5" width="105" height="8" rx="4"/><text class="t" x="92.5" y="235.9">1、在错误的时机采取错误的行动，结果是酿成灾难。</text>
<rect class="i" x="96" y="240" width="97" height="8" rx="4"/><text class="t" x="100.5" y="245.4">2、在错误的时机采取正确的行动，结果是抵制。</text>
<rect class="i" x="92" y="249.5" width="101" height="8" rx="4"/><text class="t" x="96.5" y="254.9">3、在正确的时机采取错误的行动，结果是犯错误。</text>
<rect class="i" x="92" y="259" width="101" height="8" rx="4"/><text class="t" x="96.5" y="264.4">4、在正确的时机采取正确的行动，结果就是成功。</text>
<rect class="i" x="31" y="268.5" width="162" height="19.5" rx="5"/><text class="t" x="35.5" y="274.4">5、每个人的生命中都会有那种特别的一刻，在这一刻他要被轻拍肩膀，如果能掌握这</text><text class="t" x="35.5" y="279.4">特别的时机，他就能完成一生的使命，这使命是为他而设的。在这种时刻，他会找</text><text class="t" x="35.5" y="284.4">到伟大的滋味，而这也是他一生中最美好的时刻。</text>
<rect class="i" x="47" y="289" width="146" height="8" rx="4"/><text class="t" x="51.5" y="294.4">花时间分析失败的行动，确定到底是错误的行动还是错误的时机决定了失败。</text>
</g>

<g id="n18" class="c18">
<rect class="nr" x="232" y="347.5" width="46" height="13" rx="6.5"/><text class="nt" x="255" y="356.2">18.舍得法则</text>
<rect class="sr" x="233.5" y="362" width="44.5" height="6" rx="1"/><rect class="ic" x="235" y="363.2" width="2.4" height="3.6" rx=".6"/><text class="st" x="239" y="366.1">要想升高，必须先有所放弃</text>
<rect class="lr" x="197" y="310.75" width="13" height="6.5" rx="3.25"/><text class="lt" x="203.5" y="315.3">解释</text>
<rect class="lr" x="197" y="350.75" width="13" height="6.5" rx="3.25"/><text class="lt" x="203.5" y="355.3">说明</text>
<rect class="lr" x="197" y="391.25" width="13" height="6.5" rx="3.25"/><text class="lt" x="203.5" y="395.8">应用</text>
<rect class="i" x="28" y="307" width="162" height="14" rx="5"/><text class="t" x="32.5" y="312.9">领导者必须有所失才能有所得，成功的领导者都懂得牺牲各种次要的东西，以便更专心</text><text class="t" x="32.5" y="317.9">致力于领导主要的事。</text>
<rect class="i" x="89" y="322" width="101" height="8" rx="4"/><text class="t" x="93.5" y="327.4">1、领导者必须懂得先舍后得，领导的精髓就是牺牲。</text>
<rect class="i" x="28" y="331.5" width="162" height="14" rx="5"/><text class="t" x="32.5" y="337.4">2、你失去的一切，会从其他方面得到补偿。而你所得到的一切，也必须付出一些代价</text><text class="t" x="32.5" y="342.4">来换取。</text>
<rect class="i" x="38" y="347" width="152" height="8" rx="4"/><text class="t" x="42.5" y="352.4">3、如果领导者必须有所舍，才能有所得，那么你想要的领导越高，就必须付出越多。</text>
<rect class="i" x="28" y="356.5" width="162" height="14" rx="5"/><text class="t" x="32.5" y="362.4">4、任何时候，只要知道自己所追求的下一步是正确的，哪怕要付出很大代价也是值得</text><text class="t" x="32.5" y="367.4">去做。</text>
<rect class="i" x="28" y="372" width="162" height="14" rx="5"/><text class="t" x="32.5" y="377.9">5、知道自己想要什么并愿意为此放弃些什么，放弃那些并不需要牺牲，而是为了实现</text><text class="t" x="32.5" y="382.9">目标所必须的事情。</text>
<rect class="i" x="28" y="387.5" width="162" height="14" rx="5"/><text class="t" x="32.5" y="393.4">列两个清单：一个写上为了有所得，你愿意放弃的事情；另一个写上你不愿意为了成功</text><text class="t" x="32.5" y="398.4">而放弃的事情。要考虑在清单上包括健康、婚姻、父子关系、经济等要素。</text>
</g>

<g id="n17" class="c17">
<rect class="nr" x="220" y="454.5" width="58" height="13" rx="6.5"/><text class="nt" x="249" y="463.2">17.优先次序法则</text>
<rect class="sr" x="224.5" y="469" width="53.5" height="6" rx="1"/><rect class="ic" x="226" y="470.2" width="2.4" height="3.6" rx=".6"/><text class="st" x="230" y="473.1">领导者明白，忙碌不一定等于成效</text>
<rect class="lr" x="197" y="413.75" width="13" height="6.5" rx="3.25"/><text class="lt" x="203.5" y="418.3">解释</text>
<rect class="lr" x="197" y="458.75" width="13" height="6.5" rx="3.25"/><text class="lt" x="203.5" y="463.3">说明</text>
<rect class="lr" x="197" y="504.25" width="13" height="6.5" rx="3.25"/><text class="lt" x="203.5" y="508.8">应用</text>
<rect class="i" x="28" y="410" width="162" height="14" rx="5"/><text class="t" x="32.5" y="415.9">如果有人可以做你手中的工作，那就把它交给他们去做。你能做到的事不一定就意味</text><text class="t" x="32.5" y="420.9">着你必须亲自去做。领导者应该懂得忙碌不一定等于成效。</text>
<rect class="i" x="109" y="425.5" width="81" height="8" rx="4"/><text class="t" x="113.5" y="430.9">1、并非每个领导者都会按照优先次序做事</text>
<rect class="i" x="28" y="435" width="162" height="14" rx="5"/><text class="t" x="32.5" y="440.9">2、领导者就是爬上最高的梯子，仔细察看全景，然后大声宣布说：“我们走错</text><text class="t" x="32.5" y="445.9">了”的那个人。</text>
<rect class="i" x="113" y="450.5" width="77" height="8" rx="4"/><text class="t" x="117.5" y="455.9">3、领导者的首要责任就是定义现实。</text>
<rect class="i" x="28" y="460" width="162" height="14" rx="5"/><text class="t" x="32.5" y="465.9">4、帕累托原理：在所有活动中，只要集中注意最重要的那20%，你就能获得你付出努</text><text class="t" x="32.5" y="470.9">力80%的回报。</text>
<rect class="i" x="28" y="475.5" width="162" height="14" rx="5"/><text class="t" x="32.5" y="481.4">5、三R法则：必要的分内事情Requirement、回报效益高的事情Return、回报大的事</text><text class="t" x="32.5" y="486.4">情Reward</text>
<rect class="i" x="26" y="491" width="164" height="8" rx="4"/><text class="t" x="30.5" y="496.4">6、领导者们应该走出那些他们感到舒适的领域，而去那些可以发挥他们优势的领域。</text>
<rect class="i" x="28" y="500.5" width="162" height="14" rx="5"/><text class="t" x="32.5" y="506.4">花时间写出“三R”问题的答案：1.什么是我的分内之事？2.什么给我最大的回报？3.什</text><text class="t" x="32.5" y="511.4">么给我最大的奖赏？</text>
</g>

<g id="n16" class="c16">
<rect class="nr" x="232" y="565.5" width="46" height="13" rx="6.5"/><text class="nt" x="255" y="574.2">16.动势法则</text>
<rect class="sr" x="236.5" y="580" width="41.5" height="6" rx="1"/><rect class="ic" x="238" y="581.2" width="2.4" height="3.6" rx=".6"/><text class="st" x="242" y="584.1">动势是领导者最好的朋友</text>
<rect class="lr" x="208" y="527.75" width="13" height="6.5" rx="3.25"/><text class="lt" x="214.5" y="532.3">解释</text>
<rect class="lr" x="208" y="567.25" width="13" height="6.5" rx="3.25"/><text class="lt" x="214.5" y="571.8">说明</text>
<rect class="lr" x="208" y="611.25" width="13" height="6.5" rx="3.25"/><text class="lt" x="214.5" y="615.8">应用</text>
<rect class="i" x="38" y="524" width="162" height="14" rx="5"/><text class="t" x="42.5" y="529.9">一旦领导者为组织带来了成功并凝聚了动势，人们就会给他更多的赞赏，前景就会一片</text><text class="t" x="42.5" y="534.9">光明。</text>
<rect class="i" x="38" y="540" width="162" height="14" rx="5"/><text class="t" x="42.5" y="545.9">1、为什么说动势是领导者最好的朋友？因为很多时候，成功与失败的差别就在于有没</text><text class="t" x="42.5" y="550.9">有动势。</text>
<rect class="i" x="87" y="555.5" width="113" height="8" rx="4"/><text class="t" x="91.5" y="560.9">2、动势能使普通人超常表现，它使事物看起来比实际更大。</text>
<rect class="i" x="56" y="565" width="144" height="8" rx="4"/><text class="t" x="60.5" y="570.4">3、一旦产生了动势，你就不会担心小问题，而许多大问题似乎也能迎刃而解。</text>
<rect class="i" x="72" y="574.5" width="128" height="8" rx="4"/><text class="t" x="76.5" y="579.9">4、在一个拥有动势的组织中，即使是普通人也能超水平表现自我。</text>
<rect class="i" x="84" y="584" width="116" height="8" rx="4"/><text class="t" x="88.5" y="589.4">5、创造动势是领导者的责任，只有领导者才能创造出动势。</text>
<rect class="i" x="76" y="593.5" width="124" height="8" rx="4"/><text class="t" x="80.5" y="598.9">6、除非大规模改变公司士气和组织人心，否则动势不会被打开大门</text>
<rect class="i" x="38" y="603" width="162" height="14" rx="5"/><text class="t" x="42.5" y="608.9">激励是创造动势的关键要素，庆祝别人取得的成就，促进你的整体的发展，把推动力对</text><text class="t" x="42.5" y="613.9">公司做出贡献的人作为习惯做法。</text>
<rect class="i" x="90" y="618.5" width="110" height="8" rx="4"/><text class="t" x="94.5" y="623.9">不但要推动手下做出的努力，更要奖励他们取得的成绩。</text>
</g>

<g id="n15" class="c15">
<rect class="nr" x="232" y="662.5" width="46" height="13" rx="6.5"/><text class="nt" x="255" y="671.2">15.制胜法则</text>
<rect class="sr" x="221.5" y="677" width="56.5" height="6" rx="1"/><rect class="ic" x="223" y="678.2" width="2.4" height="3.6" rx=".6"/><text class="st" x="227" y="681.1">领导者为他的团队找出一条致胜之路</text>
<rect class="lr" x="192" y="637.75" width="13" height="6.5" rx="3.25"/><text class="lt" x="198.5" y="642.3">解释</text>
<rect class="lr" x="192" y="665.75" width="13" height="6.5" rx="3.25"/><text class="lt" x="198.5" y="670.3">说明</text>
<rect class="lr" x="192" y="696.5" width="13" height="6.5" rx="3.25"/><text class="lt" x="198.5" y="701.05">应用</text>
<rect class="i" x="23" y="634" width="162" height="14" rx="5"/><text class="t" x="27.5" y="639.9">领导者都具有一个特质，就是他们不能接受失败。为了取得成功，他们费尽心思地策</text><text class="t" x="27.5" y="644.9">划，然后动员每一份人力物力实现它。</text>
<rect class="i" x="88" y="649.5" width="97" height="8" rx="4"/><text class="t" x="92.5" y="654.9">1、我们必须把领导者身上最好的素质激发出来。</text>
<rect class="i" x="23" y="659" width="162" height="14" rx="5"/><text class="t" x="27.5" y="664.9">2、胜利，不惜一切代价；去胜得胜利，无论多么可怕，也要胜得胜利；无论道路多么</text><text class="t" x="27.5" y="669.9">遥远和艰难，也要胜得胜利。</text>
<rect class="i" x="23" y="674.5" width="162" height="14" rx="5"/><text class="t" x="27.5" y="680.4">4、所有实施“制胜法则”的领导者都相信，他们不能放弃决不要求，因此他们没有提</text><text class="t" x="27.5" y="685.4">供拒绝方案或计划，这样他们就支撑着他们继续奋斗下去。</text>
<rect class="i" x="23" y="690" width="162" height="19.5" rx="5"/><text class="t" x="27.5" y="695.9">第一步就是要承担责任，你所承诺的东西必须比下属们承诺的多。第二步思考要实</text><text class="t" x="27.5" y="700.9">现目标所需要的所有资源，只有团队中有优秀的人才，才能取得成功。第三步要有统一</text><text class="t" x="27.5" y="705.9">的目标。</text>
</g>

<g id="n14" class="c14">
<rect class="nr" x="232" y="754.5" width="46" height="13" rx="6.5"/><text class="nt" x="255" y="763.2">14.接纳法则</text>
<rect class="sr" x="224.5" y="769" width="53.5" height="6" rx="1"/><rect class="ic" x="226" y="770.2" width="2.4" height="3.6" rx=".6"/><text class="st" x="230" y="773.1">人们先接纳领导者，然后接纳他...</text>
<rect class="lr" x="192" y="722.25" width="13" height="6.5" rx="3.25"/><text class="lt" x="198.5" y="726.8">解释</text>
<rect class="lr" x="192" y="759.75" width="13" height="6.5" rx="3.25"/><text class="lt" x="198.5" y="764.3">说明</text>
<rect class="lr" x="192" y="797.25" width="13" height="6.5" rx="3.25"/><text class="lt" x="198.5" y="801.8">应用</text>
<rect class="i" x="23" y="718.5" width="162" height="14" rx="5"/><text class="t" x="27.5" y="724.4">追随者拥护领导者，自然会接纳他的目标。一旦大家有了共同的目标，就会齐心协力</text><text class="t" x="27.5" y="729.4">实现它。</text>
<rect class="i" x="23" y="734" width="162" height="14" rx="5"/><text class="t" x="27.5" y="739.9">1、领导者先找到目标，然后才找到一群追随者。而普通人却是先找到了领导者，然后</text><text class="t" x="27.5" y="744.9">才认同领导者的目标。</text>
<rect class="i" x="88" y="749.5" width="97" height="8" rx="4"/><text class="t" x="92.5" y="754.9">2、人们先拥护领导者，接着才拥护领导者的目标。</text>
<rect class="i" x="84" y="759" width="101" height="8" rx="4"/><text class="t" x="88.5" y="764.4">3、人们接纳的每一个信息都是被传递者过滤过的。</text>
<rect class="i" x="100" y="768.5" width="85" height="8" rx="4"/><text class="t" x="104.5" y="773.9">4、人们乐意追随那些他们能够认同的人。</text>
<rect class="i" x="23" y="778" width="162" height="14" rx="5"/><text class="t" x="27.5" y="783.9">5、作为一位领导者，成功是以你是否有能力带领下属实现他们认同的目标来衡量的。</text><text class="t" x="27.5" y="788.9">但在此之前，你必须先让他们接纳你成为领导者。</text>
<rect class="i" x="23" y="793.5" width="162" height="14" rx="5"/><text class="t" x="27.5" y="799.4">对不同的人使用不同的方法来获取他们的信任，如果把提升他人价值当成是自己工作的</text><text class="t" x="27.5" y="804.4">首要目标，那你的信用度就会迅速上升。</text>
</g>

<g id="n13" class="c13">
<rect class="nr" x="232" y="886.5" width="46" height="13" rx="6.5"/><text class="nt" x="255" y="895.2">13.镜像法则</text>
<rect class="sr" x="224.5" y="901" width="53.5" height="6" rx="1"/><rect class="ic" x="226" y="902.2" width="2.4" height="3.6" rx=".6"/><text class="st" x="230" y="905.1">看到别人怎么做，大家也会怎么做</text>
<rect class="lr" x="195" y="816.25" width="13" height="6.5" rx="3.25"/><text class="lt" x="201.5" y="820.8">解释</text>
<rect class="lr" x="195" y="851.25" width="13" height="6.5" rx="3.25"/><text class="lt" x="201.5" y="855.8">说明</text>
<rect class="lr" x="195" y="884.25" width="13" height="6.5" rx="3.25"/><text class="lt" x="201.5" y="888.8">应用</text>
<rect class="lr" x="195" y="893.75" width="13" height="6.5" rx="3.25"/><text class="lt" x="201.5" y="898.3">解释</text>
<rect class="lr" x="195" y="928.75" width="13" height="6.5" rx="3.25"/><text class="lt" x="201.5" y="933.3">说明</text>
<rect class="lr" x="195" y="966.25" width="13" height="6.5" rx="3.25"/><text class="lt" x="201.5" y="970.8">应用</text>
<rect class="i" x="61" y="815.5" width="126" height="8" rx="4"/><text class="t" x="65.5" y="820.9">领导者通常只是说教，只有在他们真正实践的时候，才算是领导。</text>
<rect class="i" x="26" y="825.5" width="162" height="14" rx="5"/><text class="t" x="30.5" y="831.4">1、领导者必须要成为学习榜样，你的领导水平越高，你的工作就越多是关于树立示范</text><text class="t" x="30.5" y="836.4">的事情。</text>
<rect class="i" x="26" y="841" width="162" height="14" rx="5"/><text class="t" x="30.5" y="846.9">2、优秀的领导者都清楚这个事实：他们一直都在努力为下属们做好示范，下属们则向</text><text class="t" x="30.5" y="851.9">他们学习如何做事。</text>
<rect class="i" x="48" y="856.5" width="140" height="8" rx="4"/><text class="t" x="52.5" y="861.9">3、更多的责任能够要求更好地越来越多的示范，以及更多复杂的不确定性。</text>
<rect class="i" x="64" y="866" width="124" height="8" rx="4"/><text class="t" x="68.5" y="871.4">4、下属们可能会怀疑领导者的话语，但通常都相信他们的行为。</text>
<rect class="i" x="83" y="875.5" width="105" height="8" rx="4"/><text class="t" x="87.5" y="880.9">5、领导者能给下属的最宝贵的东西就是一个好的榜样。</text>
<rect class="i" x="61" y="893" width="126" height="8" rx="4"/><text class="t" x="65.5" y="898.4">领导者通常只是说教，只有在他们真正实践的时候，才算是领导。</text>
<rect class="i" x="26" y="903" width="162" height="14" rx="5"/><text class="t" x="30.5" y="908.9">1、领导者必须要成为学习榜样，你的领导水平越高，你的工作就越多是关于树立示范</text><text class="t" x="30.5" y="913.9">的事情。</text>
<rect class="i" x="26" y="918.5" width="162" height="14" rx="5"/><text class="t" x="30.5" y="924.4">2、优秀的领导者都清楚这个事实：他们一直都在努力为下属们做好示范，下属们则向</text><text class="t" x="30.5" y="929.4">他们学习如何做事。</text>
<rect class="i" x="48" y="934" width="140" height="8" rx="4"/><text class="t" x="52.5" y="939.4">3、更多的责任能够要求更好地越来越多的示范，以及更多复杂的不确定性。</text>
<rect class="i" x="64" y="943.5" width="124" height="8" rx="4"/><text class="t" x="68.5" y="948.9">4、下属们可能会怀疑领导者的话语，但通常都相信他们的行为。</text>
<rect class="i" x="83" y="953" width="105" height="8" rx="4"/><text class="t" x="87.5" y="958.4">5、领导者能给下属的最宝贵的东西就是一个好的榜样。</text>
<rect class="i" x="26" y="962.5" width="162" height="14" rx="5"/><text class="t" x="30.5" y="968.4">考虑3-5件事你希望别人能做到的，然后为你自己的表现评分，如果你的自我评分低，</text><text class="t" x="30.5" y="973.4">你就需要首先改变自己的行为；如果评分高，你就需要让更多的人看到你的示范。</text>
</g>

<g id="n12" class="c12">
<rect class="nr" x="232" y="1014.5" width="46" height="13" rx="6.5"/><text class="nt" x="255" y="1023.2">12.授权法则</text>
<rect class="sr" x="227.5" y="1029" width="50.5" height="6" rx="1"/><rect class="ic" x="229" y="1030.2" width="2.4" height="3.6" rx=".6"/><text class="st" x="233" y="1033.1">有安全感的领导者才会授权于人</text>
<rect class="lr" x="202" y="988.75" width="13" height="6.5" rx="3.25"/><text class="lt" x="208.5" y="993.3">解释</text>
<rect class="lr" x="202" y="1018.75" width="13" height="6.5" rx="3.25"/><text class="lt" x="208.5" y="1023.3">说明</text>
<rect class="lr" x="202" y="1048.25" width="13" height="6.5" rx="3.25"/><text class="lt" x="208.5" y="1052.8">应用</text>
<rect class="i" x="33" y="985" width="162" height="14" rx="5"/><text class="t" x="37.5" y="990.9">要领导好别人，就必须帮助他们发挥自己的潜力。这意味着与他们站在一边，鼓励并授</text><text class="t" x="37.5" y="995.9">予他们权利，帮助他们取得成功。</text>
<rect class="i" x="33" y="1000.5" width="162" height="14" rx="5"/><text class="t" x="37.5" y="1006.4">1、最好的主管懂得找到人才来做好计划的工作，而且又能克制自己在过程中不横加干</text><text class="t" x="37.5" y="1011.4">涉。</text>
<rect class="i" x="94" y="1016" width="101" height="8" rx="4"/><text class="t" x="98.5" y="1021.4">2、人才是否能发挥潜能，决定于领导者的授权能力。</text>
<rect class="i" x="82" y="1025.5" width="113" height="8" rx="4"/><text class="t" x="86.5" y="1030.9">3、成功的领导者不是关乎充实自己——而是关乎授权给他人。</text>
<rect class="i" x="129" y="1035" width="66" height="8" rx="4"/><text class="t" x="133.5" y="1040.4">4、提升他人，你将更加出色。</text>
<rect class="i" x="33" y="1044.5" width="162" height="14" rx="5"/><text class="t" x="37.5" y="1050.4">挑选最优秀的人，为他们的成功创造机会，培养他们，给予他们资源，帮助他们制定一</text><text class="t" x="37.5" y="1055.4">些对组织有利并且自己可实现的目标，授予他们更多的责任和权利。</text>
</g>
</svg>
